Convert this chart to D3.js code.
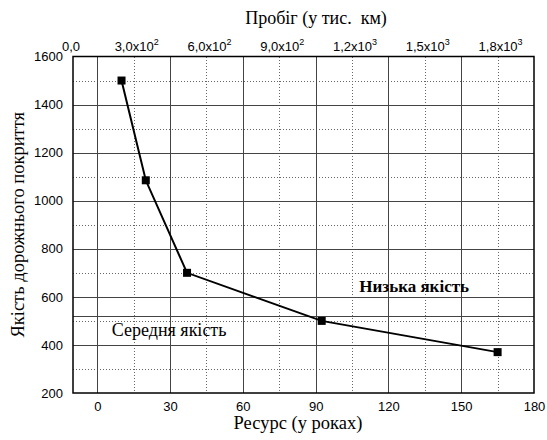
<!DOCTYPE html>
<html>
<head>
<meta charset="utf-8">
<script src="https://cdn.jsdelivr.net/npm/d3@7"></script>
<style>
  body { margin: 0; background: #fff; }
  svg { display: block; }
  .serif { font-family: "Liberation Serif", "DejaVu Serif", "Times New Roman", serif; }
  .sans { font-family: "Liberation Sans", Arial, sans-serif; }
</style>
</head>
<body>
<svg width="547" height="440"></svg>
<script>
// дані
const years = [10, 20, 37, 92.5, 165]
const quality = [1500, 1085, 700, 500, 370]
const xTicks = [0, 30, 60, 90, 120, 150, 180]
const xMinor = [15, 45, 75, 105, 135, 165]
const yTicks = [200, 400, 600, 800, 1000, 1200, 1400, 1600]
const yMinor = [300, 500, 700, 900, 1100, 1300, 1500]
const topTicks = [300, 600, 900, 1200, 1500, 1800]
const topLabels = ['3,0x10|2', '6,0x10|2', '9,0x10|2', '1,2x10|3', '1,5x10|3', '1,8x10|3']
const threshold = 520

const svg = d3.select('svg')
const pL = 73, pR = 534, pT = 56.5, pB = 393

const x = d3.scaleLinear().domain([-10, 180]).range([pL, pR])
const y = d3.scaleLinear().domain([200, 1600]).range([pB, pT])
// пробіг: 10 тис. км на рік, зсув 15 років
const xTop = d3.scaleLinear().domain([0, 1950]).range([x(-15), x(180)])

const grid = svg.append('g').attr('shape-rendering', 'crispEdges')

// пунктирна сітка
grid.selectAll('.vminor').data(xMinor).enter().append('line')
    .attr('x1', d => Math.round(x(d)) + 0.5).attr('x2', d => Math.round(x(d)) + 0.5)
    .attr('y1', pT).attr('y2', pB)
    .attr('stroke', '#666').attr('stroke-dasharray', '1,2')
grid.selectAll('.hminor').data(yMinor).enter().append('line')
    .attr('y1', d => Math.round(y(d)) + 0.5).attr('y2', d => Math.round(y(d)) + 0.5)
    .attr('x1', pL).attr('x2', pR)
    .attr('stroke', '#666').attr('stroke-dasharray', '1,2')

// основна сітка
grid.selectAll('.vmajor').data(xTicks.slice(0, -1)).enter().append('line')
    .attr('x1', d => Math.round(x(d)) + 0.5).attr('x2', d => Math.round(x(d)) + 0.5)
    .attr('y1', pT).attr('y2', pB)
    .attr('stroke', '#444')
grid.selectAll('.hmajor').data(yTicks.slice(1, -1).concat([threshold])).enter().append('line')
    .attr('y1', d => Math.round(y(d)) + 0.5).attr('y2', d => Math.round(y(d)) + 0.5)
    .attr('x1', pL).attr('x2', pR)
    .attr('stroke', '#444')

// рамка
svg.append('rect')
    .attr('x', pL).attr('y', pT)
    .attr('width', pR - pL).attr('height', pB - pT)
    .attr('fill', 'none').attr('stroke', '#000').attr('stroke-width', 1.5)

// осі
const xAxis = svg.append('g').attr('transform', `translate(0,${pB})`)
    .call(d3.axisBottom(x).tickValues(xTicks).tickSize(0).tickPadding(9))
xAxis.attr('font-family', null).attr('font-size', null).attr('class', 'sans')
xAxis.select('.domain').remove()
xAxis.selectAll('text').style('font-size', '13px').attr('fill', '#000')

const yAxis = svg.append('g').attr('transform', `translate(${pL},0)`)
    .call(d3.axisLeft(y).tickValues(yTicks).tickFormat(d3.format('d')).tickSize(0).tickPadding(10))
yAxis.attr('font-family', null).attr('font-size', null).attr('class', 'sans')
yAxis.select('.domain').remove()
yAxis.selectAll('text').style('font-size', '13px').attr('fill', '#000')

// верхня вісь (пробіг)
const topAxis = svg.append('g').attr('class', 'sans').style('font-size', '13px')
topAxis.append('text').attr('x', pL - 2).attr('y', 51).attr('text-anchor', 'middle').text('0,0')
const tl = topAxis.selectAll('.tl').data(topTicks).enter().append('text')
    .attr('x', d => xTop(d) + 3).attr('y', 51).attr('text-anchor', 'middle')
tl.append('tspan').text((d, i) => topLabels[i].split('|')[0])
tl.append('tspan').style('font-size', '9px').attr('dy', -6).text((d, i) => topLabels[i].split('|')[1])

// лінія та маркери
const pts = years.map((d, i) => [d, quality[i]])
svg.append('path').datum(pts)
    .attr('d', d3.line().x(d => x(d[0])).y(d => y(d[1])))
    .attr('fill', 'none').attr('stroke', '#000').attr('stroke-width', 2)
svg.selectAll('.pt').data(pts).enter().append('rect')
    .attr('x', d => x(d[0]) - 4).attr('y', d => y(d[1]) - 4)
    .attr('width', 8).attr('height', 8).attr('fill', '#000')

// підписи
svg.append('text').attr('class', 'serif').attr('x', 316).attr('y', 24).attr('text-anchor', 'middle')
    .style('font-size', '18px').style('white-space', 'pre')
    .text('Пробіг (у тис.  км)')
svg.append('text').attr('class', 'serif').attr('x', 298).attr('y', 429).attr('text-anchor', 'middle')
    .style('font-size', '18.5px')
    .text('Ресурс (у роках)')
svg.append('text').attr('class', 'serif').attr('transform', `translate(24,${(pT + pB) / 2}) rotate(-90)`)
    .attr('text-anchor', 'middle')
    .style('font-size', '18.5px')
    .text('Якість дорожнього покриття')

svg.append('text').attr('class', 'serif').attr('x', x(108)).attr('y', y(620))
    .style('font-size', '17px').style('font-weight', 'bold')
    .text('Низька якість')
svg.append('text').attr('class', 'serif').attr('x', x(6)).attr('y', y(437))
    .style('font-size', '18px')
    .text('Середня якість')
</script>
</body>
</html>
